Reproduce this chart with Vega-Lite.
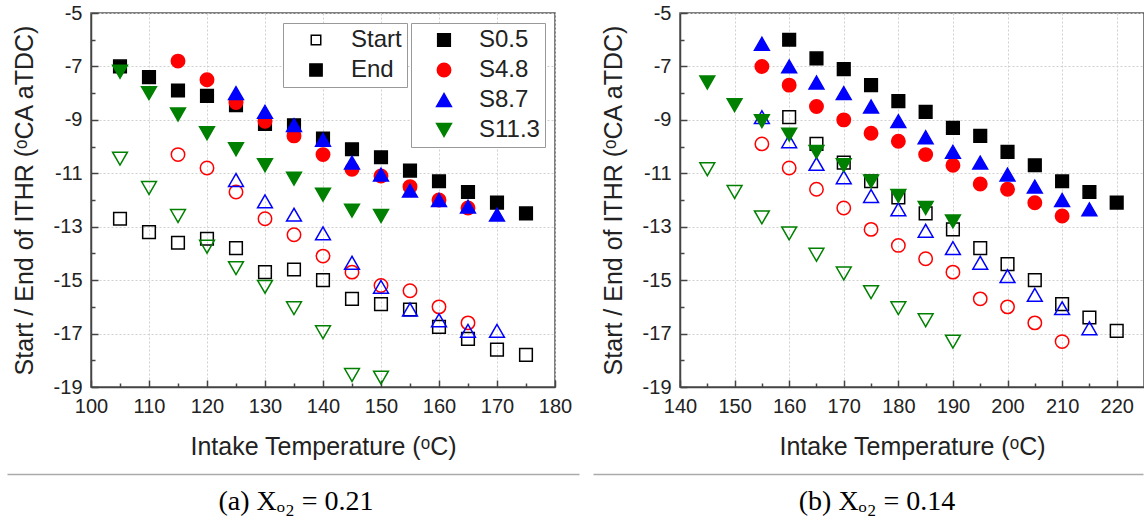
{
  "$schema": "https://vega.github.io/schema/vega-lite/v6.json",
  "padding": {"left": 11, "top": 2, "right": 0, "bottom": 0},
  "background": "white",
  "config": {
    "font": "Liberation Sans",
    "view": {"stroke": "#555", "strokeWidth": 1.5},
    "axis": {"labelFont": "Liberation Sans", "titleFont": "Liberation Sans", "labelFontSize": 20, "titleFontSize": 25, "titleFontWeight": "normal", "labelColor": "#222", "titleColor": "#222", "domainColor": "#444", "domainWidth": 1.5, "tickColor": "#444", "tickWidth": 1.5, "gridColor": "#d0d0d0", "gridDash": [2, 2], "gridWidth": 1, "labelFlush": false, "labelOverlap": false}
  },
  "datasets": {
    "a": [
      {"T":105,"v":-12.7,"s":"S0.5","p":"Start"},{"T":110,"v":-13.2,"s":"S0.5","p":"Start"},{"T":115,"v":-13.6,"s":"S0.5","p":"Start"},{"T":120,"v":-13.45,"s":"S0.5","p":"Start"},{"T":125,"v":-13.8,"s":"S0.5","p":"Start"},{"T":130,"v":-14.7,"s":"S0.5","p":"Start"},{"T":135,"v":-14.6,"s":"S0.5","p":"Start"},{"T":140,"v":-15.0,"s":"S0.5","p":"Start"},{"T":145,"v":-15.7,"s":"S0.5","p":"Start"},{"T":150,"v":-15.9,"s":"S0.5","p":"Start"},{"T":155,"v":-16.1,"s":"S0.5","p":"Start"},{"T":160,"v":-16.75,"s":"S0.5","p":"Start"},{"T":165,"v":-17.2,"s":"S0.5","p":"Start"},{"T":170,"v":-17.6,"s":"S0.5","p":"Start"},{"T":175,"v":-17.8,"s":"S0.5","p":"Start"},
      {"T":105,"v":-7.0,"s":"S0.5","p":"End"},{"T":110,"v":-7.4,"s":"S0.5","p":"End"},{"T":115,"v":-7.9,"s":"S0.5","p":"End"},{"T":120,"v":-8.1,"s":"S0.5","p":"End"},{"T":125,"v":-8.45,"s":"S0.5","p":"End"},{"T":130,"v":-9.15,"s":"S0.5","p":"End"},{"T":135,"v":-9.2,"s":"S0.5","p":"End"},{"T":140,"v":-9.7,"s":"S0.5","p":"End"},{"T":145,"v":-10.1,"s":"S0.5","p":"End"},{"T":150,"v":-10.4,"s":"S0.5","p":"End"},{"T":155,"v":-10.9,"s":"S0.5","p":"End"},{"T":160,"v":-11.3,"s":"S0.5","p":"End"},{"T":165,"v":-11.7,"s":"S0.5","p":"End"},{"T":170,"v":-12.1,"s":"S0.5","p":"End"},{"T":175,"v":-12.5,"s":"S0.5","p":"End"},
      {"T":115,"v":-10.3,"s":"S4.8","p":"Start"},{"T":120,"v":-10.8,"s":"S4.8","p":"Start"},{"T":125,"v":-11.7,"s":"S4.8","p":"Start"},{"T":130,"v":-12.7,"s":"S4.8","p":"Start"},{"T":135,"v":-13.3,"s":"S4.8","p":"Start"},{"T":140,"v":-14.1,"s":"S4.8","p":"Start"},{"T":145,"v":-14.7,"s":"S4.8","p":"Start"},{"T":150,"v":-15.2,"s":"S4.8","p":"Start"},{"T":155,"v":-15.4,"s":"S4.8","p":"Start"},{"T":160,"v":-16.0,"s":"S4.8","p":"Start"},{"T":165,"v":-16.6,"s":"S4.8","p":"Start"},
      {"T":115,"v":-6.8,"s":"S4.8","p":"End"},{"T":120,"v":-7.5,"s":"S4.8","p":"End"},{"T":125,"v":-8.35,"s":"S4.8","p":"End"},{"T":130,"v":-9.05,"s":"S4.8","p":"End"},{"T":135,"v":-9.6,"s":"S4.8","p":"End"},{"T":140,"v":-10.3,"s":"S4.8","p":"End"},{"T":145,"v":-10.85,"s":"S4.8","p":"End"},{"T":150,"v":-11.1,"s":"S4.8","p":"End"},{"T":155,"v":-11.5,"s":"S4.8","p":"End"},{"T":160,"v":-12.0,"s":"S4.8","p":"End"},{"T":165,"v":-12.3,"s":"S4.8","p":"End"},
      {"T":125,"v":-11.25,"s":"S8.7","p":"Start"},{"T":130,"v":-12.05,"s":"S8.7","p":"Start"},{"T":135,"v":-12.55,"s":"S8.7","p":"Start"},{"T":140,"v":-13.25,"s":"S8.7","p":"Start"},{"T":145,"v":-14.35,"s":"S8.7","p":"Start"},{"T":150,"v":-15.25,"s":"S8.7","p":"Start"},{"T":155,"v":-16.1,"s":"S8.7","p":"Start"},{"T":160,"v":-16.5,"s":"S8.7","p":"Start"},{"T":165,"v":-16.9,"s":"S8.7","p":"Start"},{"T":170,"v":-16.9,"s":"S8.7","p":"Start"},
      {"T":125,"v":-8.0,"s":"S8.7","p":"End"},{"T":130,"v":-8.7,"s":"S8.7","p":"End"},{"T":135,"v":-9.2,"s":"S8.7","p":"End"},{"T":140,"v":-9.75,"s":"S8.7","p":"End"},{"T":145,"v":-10.6,"s":"S8.7","p":"End"},{"T":150,"v":-11.05,"s":"S8.7","p":"End"},{"T":155,"v":-11.65,"s":"S8.7","p":"End"},{"T":160,"v":-12.0,"s":"S8.7","p":"End"},{"T":165,"v":-12.25,"s":"S8.7","p":"End"},{"T":170,"v":-12.55,"s":"S8.7","p":"End"},
      {"T":105,"v":-10.45,"s":"S11.3","p":"Start"},{"T":110,"v":-11.55,"s":"S11.3","p":"Start"},{"T":115,"v":-12.6,"s":"S11.3","p":"Start"},{"T":120,"v":-13.75,"s":"S11.3","p":"Start"},{"T":125,"v":-14.55,"s":"S11.3","p":"Start"},{"T":130,"v":-15.25,"s":"S11.3","p":"Start"},{"T":135,"v":-16.05,"s":"S11.3","p":"Start"},{"T":140,"v":-16.95,"s":"S11.3","p":"Start"},{"T":145,"v":-18.55,"s":"S11.3","p":"Start"},{"T":150,"v":-18.65,"s":"S11.3","p":"Start"},
      {"T":105,"v":-7.2,"s":"S11.3","p":"End"},{"T":110,"v":-8.0,"s":"S11.3","p":"End"},{"T":115,"v":-8.8,"s":"S11.3","p":"End"},{"T":120,"v":-9.5,"s":"S11.3","p":"End"},{"T":125,"v":-10.1,"s":"S11.3","p":"End"},{"T":130,"v":-10.7,"s":"S11.3","p":"End"},{"T":135,"v":-11.2,"s":"S11.3","p":"End"},{"T":140,"v":-11.8,"s":"S11.3","p":"End"},{"T":145,"v":-12.4,"s":"S11.3","p":"End"},{"T":150,"v":-12.6,"s":"S11.3","p":"End"}
    ],
    "b": [
      {"T":160,"v":-8.9,"s":"S0.5","p":"Start"},{"T":165,"v":-9.9,"s":"S0.5","p":"Start"},{"T":170,"v":-10.6,"s":"S0.5","p":"Start"},{"T":175,"v":-11.3,"s":"S0.5","p":"Start"},{"T":180,"v":-11.9,"s":"S0.5","p":"Start"},{"T":185,"v":-12.5,"s":"S0.5","p":"Start"},{"T":190,"v":-13.1,"s":"S0.5","p":"Start"},{"T":195,"v":-13.8,"s":"S0.5","p":"Start"},{"T":200,"v":-14.4,"s":"S0.5","p":"Start"},{"T":205,"v":-15.0,"s":"S0.5","p":"Start"},{"T":210,"v":-15.9,"s":"S0.5","p":"Start"},{"T":215,"v":-16.4,"s":"S0.5","p":"Start"},{"T":220,"v":-16.9,"s":"S0.5","p":"Start"},
      {"T":160,"v":-6.0,"s":"S0.5","p":"End"},{"T":165,"v":-6.7,"s":"S0.5","p":"End"},{"T":170,"v":-7.1,"s":"S0.5","p":"End"},{"T":175,"v":-7.7,"s":"S0.5","p":"End"},{"T":180,"v":-8.3,"s":"S0.5","p":"End"},{"T":185,"v":-8.7,"s":"S0.5","p":"End"},{"T":190,"v":-9.3,"s":"S0.5","p":"End"},{"T":195,"v":-9.6,"s":"S0.5","p":"End"},{"T":200,"v":-10.2,"s":"S0.5","p":"End"},{"T":205,"v":-10.7,"s":"S0.5","p":"End"},{"T":210,"v":-11.3,"s":"S0.5","p":"End"},{"T":215,"v":-11.7,"s":"S0.5","p":"End"},{"T":220,"v":-12.1,"s":"S0.5","p":"End"},
      {"T":155,"v":-9.9,"s":"S4.8","p":"Start"},{"T":160,"v":-10.8,"s":"S4.8","p":"Start"},{"T":165,"v":-11.6,"s":"S4.8","p":"Start"},{"T":170,"v":-12.3,"s":"S4.8","p":"Start"},{"T":175,"v":-13.1,"s":"S4.8","p":"Start"},{"T":180,"v":-13.7,"s":"S4.8","p":"Start"},{"T":185,"v":-14.2,"s":"S4.8","p":"Start"},{"T":190,"v":-14.7,"s":"S4.8","p":"Start"},{"T":195,"v":-15.7,"s":"S4.8","p":"Start"},{"T":200,"v":-16.0,"s":"S4.8","p":"Start"},{"T":205,"v":-16.6,"s":"S4.8","p":"Start"},{"T":210,"v":-17.3,"s":"S4.8","p":"Start"},
      {"T":155,"v":-7.0,"s":"S4.8","p":"End"},{"T":160,"v":-7.7,"s":"S4.8","p":"End"},{"T":165,"v":-8.5,"s":"S4.8","p":"End"},{"T":170,"v":-9.0,"s":"S4.8","p":"End"},{"T":175,"v":-9.5,"s":"S4.8","p":"End"},{"T":180,"v":-9.8,"s":"S4.8","p":"End"},{"T":185,"v":-10.3,"s":"S4.8","p":"End"},{"T":190,"v":-10.7,"s":"S4.8","p":"End"},{"T":195,"v":-11.4,"s":"S4.8","p":"End"},{"T":200,"v":-11.6,"s":"S4.8","p":"End"},{"T":205,"v":-12.1,"s":"S4.8","p":"End"},{"T":210,"v":-12.6,"s":"S4.8","p":"End"},
      {"T":155,"v":-8.9,"s":"S8.7","p":"Start"},{"T":160,"v":-9.8,"s":"S8.7","p":"Start"},{"T":165,"v":-10.65,"s":"S8.7","p":"Start"},{"T":170,"v":-11.15,"s":"S8.7","p":"Start"},{"T":175,"v":-11.85,"s":"S8.7","p":"Start"},{"T":180,"v":-12.35,"s":"S8.7","p":"Start"},{"T":185,"v":-13.15,"s":"S8.7","p":"Start"},{"T":190,"v":-13.8,"s":"S8.7","p":"Start"},{"T":195,"v":-14.35,"s":"S8.7","p":"Start"},{"T":200,"v":-14.85,"s":"S8.7","p":"Start"},{"T":205,"v":-15.55,"s":"S8.7","p":"Start"},{"T":210,"v":-16.05,"s":"S8.7","p":"Start"},{"T":215,"v":-16.8,"s":"S8.7","p":"Start"},
      {"T":155,"v":-6.15,"s":"S8.7","p":"End"},{"T":160,"v":-7.0,"s":"S8.7","p":"End"},{"T":165,"v":-7.6,"s":"S8.7","p":"End"},{"T":170,"v":-8.0,"s":"S8.7","p":"End"},{"T":175,"v":-8.5,"s":"S8.7","p":"End"},{"T":180,"v":-9.05,"s":"S8.7","p":"End"},{"T":185,"v":-9.65,"s":"S8.7","p":"End"},{"T":190,"v":-10.2,"s":"S8.7","p":"End"},{"T":195,"v":-10.6,"s":"S8.7","p":"End"},{"T":200,"v":-11.05,"s":"S8.7","p":"End"},{"T":205,"v":-11.5,"s":"S8.7","p":"End"},{"T":210,"v":-12.0,"s":"S8.7","p":"End"},{"T":215,"v":-12.35,"s":"S8.7","p":"End"},
      {"T":145,"v":-10.85,"s":"S11.3","p":"Start"},{"T":150,"v":-11.7,"s":"S11.3","p":"Start"},{"T":155,"v":-12.65,"s":"S11.3","p":"Start"},{"T":160,"v":-13.25,"s":"S11.3","p":"Start"},{"T":165,"v":-14.05,"s":"S11.3","p":"Start"},{"T":170,"v":-14.75,"s":"S11.3","p":"Start"},{"T":175,"v":-15.45,"s":"S11.3","p":"Start"},{"T":180,"v":-16.05,"s":"S11.3","p":"Start"},{"T":185,"v":-16.5,"s":"S11.3","p":"Start"},{"T":190,"v":-17.3,"s":"S11.3","p":"Start"},
      {"T":145,"v":-7.6,"s":"S11.3","p":"End"},{"T":150,"v":-8.45,"s":"S11.3","p":"End"},{"T":155,"v":-9.05,"s":"S11.3","p":"End"},{"T":160,"v":-9.55,"s":"S11.3","p":"End"},{"T":165,"v":-10.2,"s":"S11.3","p":"End"},{"T":170,"v":-10.7,"s":"S11.3","p":"End"},{"T":175,"v":-11.3,"s":"S11.3","p":"End"},{"T":180,"v":-11.85,"s":"S11.3","p":"End"},{"T":185,"v":-12.3,"s":"S11.3","p":"End"},{"T":190,"v":-12.8,"s":"S11.3","p":"End"}
    ],
    "capA": [{"pos": 0.5, "caption": "(a) Xₒ₂ = 0.21"}],
    "capB": [{"pos": 0.5, "caption": "(b) Xₒ₂ = 0.14"}]
  },
  "spacing": 14,
  "resolve": {"scale": {"fill": "independent", "stroke": "independent", "shape": "independent", "size": "independent", "opacity": "independent", "fillOpacity": "independent"}, "legend": {"fill": "independent", "stroke": "independent", "shape": "independent", "size": "independent", "opacity": "independent"}},
  "vconcat": [
    {
      "spacing": 27,
      "resolve": {"scale": {"fill": "independent", "stroke": "independent", "shape": "independent", "size": "independent", "opacity": "independent", "fillOpacity": "independent"}, "legend": {"fill": "independent", "stroke": "independent", "shape": "independent", "size": "independent", "opacity": "independent"}},
      "hconcat": [
        {
          "width": 464, "height": 374,
          "data": {"name": "a"},
          "mark": {"type": "point", "filled": true, "color": "black", "stroke": "black", "opacity": 1, "strokeWidth": 1.5},
          "encoding": {
            "x": {"field": "T", "type": "quantitative", "scale": {"domain": [100, 180], "nice": false, "zero": false},
              "axis": {"title": "Intake Temperature (ᵒC)", "values": [100,105,110,115,120,125,130,135,140,145,150,155,160,165,170,175,180], "labelExpr": "datum.value % 10 === 0 ? datum.label : ''", "tickSize": {"condition": {"test": "datum.value % 10 === 0", "value": -7}, "value": -4}, "gridOpacity": {"condition": {"test": "datum.value % 10 === 0", "value": 1}, "value": 0}, "labelPadding": 16, "titlePadding": 15}},
            "y": {"field": "v", "type": "quantitative", "scale": {"domain": [-19, -5], "nice": false, "zero": false},
              "axis": {"title": "Start / End of ITHR (ᵒCA aTDC)", "values": [-19,-18,-17,-16,-15,-14,-13,-12,-11,-10,-9,-8,-7,-6,-5], "labelExpr": "abs(datum.value % 2) === 1 ? '' + datum.value : ''", "tickSize": {"condition": {"test": "abs(datum.value % 2) === 1", "value": -7}, "value": -4}, "gridOpacity": {"condition": {"test": "abs(datum.value % 2) === 1", "value": 1}, "value": 0}, "labelPadding": 16, "titlePadding": 16}},
            "fill": {"field": "s", "type": "nominal", "scale": {"domain": ["S0.5", "S4.8", "S8.7", "S11.3"], "range": ["#000000", "#ff0000", "#0000ff", "#008000"]},
              "legend": {"orient": "none", "legendX": 320, "legendY": 10, "title": null, "direction": "vertical", "padding": 5, "rowPadding": 6, "strokeColor": "#999", "fillColor": "white", "labelFontSize": 24, "labelFont": "Liberation Sans", "labelColor": "#222", "symbolStrokeWidth": 1.5, "labelOffset": 23, "symbolOffset": 16, "labelLimit": 200}},
            "stroke": {"field": "s", "type": "nominal", "scale": {"domain": ["S0.5", "S4.8", "S8.7", "S11.3"], "range": ["#000000", "#ff0000", "#0000ff", "#008000"]},
              "legend": {"orient": "none", "legendX": 320, "legendY": 10, "title": null, "direction": "vertical", "padding": 5, "rowPadding": 6, "strokeColor": "#999", "fillColor": "white", "labelFontSize": 24, "labelFont": "Liberation Sans", "labelColor": "#222", "symbolStrokeWidth": 1.5, "labelOffset": 23, "symbolOffset": 16, "labelLimit": 200}},
            "shape": {"field": "s", "type": "nominal", "scale": {"domain": ["S0.5", "S4.8", "S8.7", "S11.3"], "range": ["square", "circle", "triangle-up", "triangle-down"]},
              "legend": {"orient": "none", "legendX": 320, "legendY": 10, "title": null, "direction": "vertical", "padding": 5, "rowPadding": 6, "strokeColor": "#999", "fillColor": "white", "labelFontSize": 24, "labelFont": "Liberation Sans", "labelColor": "#222", "symbolStrokeWidth": 1.5, "labelOffset": 23, "symbolOffset": 16, "labelLimit": 200}},
            "size": {"field": "s", "type": "nominal", "scale": {"type": "ordinal", "domain": ["S0.5", "S4.8", "S8.7", "S11.3"], "range": [160, 180, 220, 220]},
              "legend": {"orient": "none", "legendX": 320, "legendY": 10, "title": null, "direction": "vertical", "padding": 5, "rowPadding": 6, "strokeColor": "#999", "fillColor": "white", "labelFontSize": 24, "labelFont": "Liberation Sans", "labelColor": "#222", "symbolStrokeWidth": 1.5, "labelOffset": 23, "symbolOffset": 16, "labelLimit": 200}},
            "fillOpacity": {"field": "p", "type": "nominal", "scale": {"type": "ordinal", "domain": ["Start", "End"], "range": [0, 1]}, "legend": null},
            "opacity": {"field": "p", "type": "nominal", "scale": {"type": "ordinal", "domain": ["Start", "End"], "range": [1, 1]},
              "legend": {"orient": "none", "legendX": 192, "legendY": 10, "title": null, "direction": "vertical", "padding": 5, "rowPadding": 6, "strokeColor": "#999", "fillColor": "white", "labelFontSize": 24, "labelFont": "Liberation Sans", "labelColor": "#222", "symbolType": "square", "symbolSize": 140, "symbolFillColor": "black", "symbolStrokeColor": "black", "symbolStrokeWidth": 1.5, "labelOffset": 23, "symbolOffset": 16, "labelLimit": 200,
                "encode": {"symbols": {"update": {"fill": {"signal": "datum.value === 'Start' ? 'white' : 'black'"}, "stroke": {"value": "black"}, "shape": {"value": "square"}, "strokeWidth": {"value": 1.5}, "size": {"signal": "datum.value === 'Start' ? 90 : 150"}}}}}}
          }
        },
        {
          "width": 464, "height": 374,
          "data": {"name": "b"},
          "mark": {"type": "point", "filled": true, "color": "black", "stroke": "black", "opacity": 1, "strokeWidth": 1.5},
          "encoding": {
            "x": {"field": "T", "type": "quantitative", "scale": {"domain": [140, 225], "nice": false, "zero": false},
              "axis": {"title": "Intake Temperature (ᵒC)", "values": [140,145,150,155,160,165,170,175,180,185,190,195,200,205,210,215,220], "labelExpr": "datum.value % 10 === 0 ? datum.label : ''", "tickSize": {"condition": {"test": "datum.value % 10 === 0", "value": -7}, "value": -4}, "gridOpacity": {"condition": {"test": "datum.value % 10 === 0", "value": 1}, "value": 0}, "labelPadding": 16, "titlePadding": 15}},
            "y": {"field": "v", "type": "quantitative", "scale": {"domain": [-19, -5], "nice": false, "zero": false},
              "axis": {"title": "Start / End of ITHR (ᵒCA aTDC)", "values": [-19,-18,-17,-16,-15,-14,-13,-12,-11,-10,-9,-8,-7,-6,-5], "labelExpr": "abs(datum.value % 2) === 1 ? '' + datum.value : ''", "tickSize": {"condition": {"test": "abs(datum.value % 2) === 1", "value": -7}, "value": -4}, "gridOpacity": {"condition": {"test": "abs(datum.value % 2) === 1", "value": 1}, "value": 0}, "labelPadding": 16, "titlePadding": 16}},
            "fill": {"field": "s", "type": "nominal", "scale": {"domain": ["S0.5", "S4.8", "S8.7", "S11.3"], "range": ["#000000", "#ff0000", "#0000ff", "#008000"]}, "legend": null},
            "stroke": {"field": "s", "type": "nominal", "scale": {"domain": ["S0.5", "S4.8", "S8.7", "S11.3"], "range": ["#000000", "#ff0000", "#0000ff", "#008000"]}, "legend": null},
            "shape": {"field": "s", "type": "nominal", "scale": {"domain": ["S0.5", "S4.8", "S8.7", "S11.3"], "range": ["square", "circle", "triangle-up", "triangle-down"]}, "legend": null},
            "size": {"field": "s", "type": "nominal", "scale": {"type": "ordinal", "domain": ["S0.5", "S4.8", "S8.7", "S11.3"], "range": [160, 180, 220, 220]}, "legend": null},
            "fillOpacity": {"field": "p", "type": "nominal", "scale": {"type": "ordinal", "domain": ["Start", "End"], "range": [0, 1]}, "legend": null}
          }
        }
      ]
    },
    {
      "spacing": 15,
      "hconcat": [
        {
          "width": 488, "height": 40,
          "data": {"name": "capA"},
          "view": {"stroke": null},
          "mark": {"type": "text", "font": "Liberation Serif", "fontSize": 28, "color": "black", "baseline": "alphabetic", "dy": 16, "dx": 3},
          "encoding": {
            "x": {"field": "pos", "type": "quantitative", "scale": {"domain": [0, 1], "range": [-84, 488]},
              "axis": {"orient": "top", "domain": true, "domainColor": "#aaa", "domainWidth": 1.5, "ticks": false, "labels": false, "grid": false, "title": null}},
            "text": {"field": "caption"}
          }
        },
        {
          "width": 465, "height": 40,
          "data": {"name": "capB"},
          "view": {"stroke": null},
          "mark": {"type": "text", "font": "Liberation Serif", "fontSize": 28, "color": "black", "baseline": "alphabetic", "dy": 16, "dx": 9},
          "encoding": {
            "x": {"field": "pos", "type": "quantitative", "scale": {"domain": [0, 1], "range": [-85, 465]},
              "axis": {"orient": "top", "domain": true, "domainColor": "#aaa", "domainWidth": 1.5, "ticks": false, "labels": false, "grid": false, "title": null}},
            "text": {"field": "caption"}
          }
        }
      ]
    }
  ]
}
